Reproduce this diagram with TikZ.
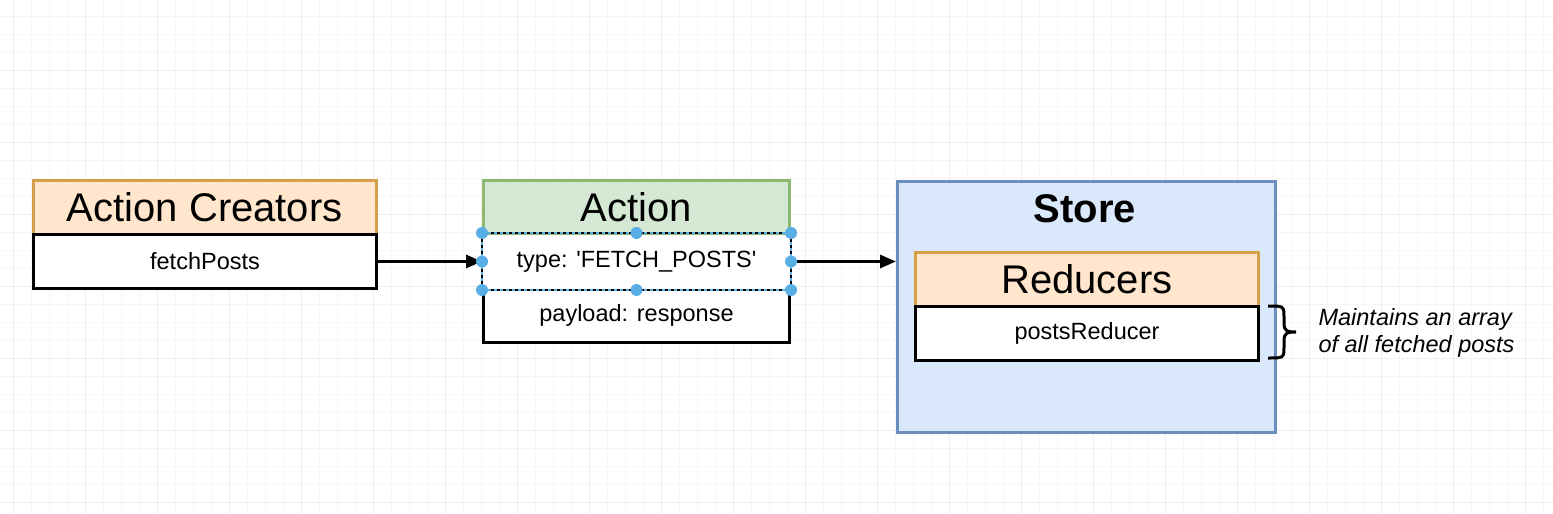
\documentclass[tikz,border=0pt]{standalone}
\usepackage{fontspec}
\setmainfont{Liberation Sans}
\usetikzlibrary{arrows.meta}
\definecolor{gridminor}{HTML}{F6F6F6}
\definecolor{gridmajor}{HTML}{ECECEC}
\definecolor{peachfill}{HTML}{FFE6CC}
\definecolor{peachdraw}{HTML}{D6A04A}
\definecolor{greenfill}{HTML}{D5E8D4}
\definecolor{greendraw}{HTML}{8DB870}
\definecolor{bluefill}{HTML}{DAE8FC}
\definecolor{bluedraw}{HTML}{6C8EBF}
\definecolor{handle}{HTML}{5AAEE6}
\begin{document}
\begin{tikzpicture}[x=1pt,y=-1pt,
  titlefont/.style={font=\fontsize{40}{48}\selectfont},
  bodyfont/.style={font=\fontsize{23.5}{28}\selectfont},
  hdr/.style={draw, line width=2.5pt, inner sep=0pt, titlefont, anchor=north west},
  rowbox/.style={draw=black, fill=white, line width=3pt, inner sep=0pt, bodyfont, anchor=north west, minimum height=54pt},
  arrowline/.style={draw=black, line width=3pt, -{Triangle[length=16pt,width=13pt]}},
  hdot/.style={fill=handle, draw=none}]
\useasboundingbox (0,0) rectangle (1553,514);
\fill[white] (0,0) rectangle (1553,514);
% grid
\foreach \i in {-1,...,86} {\draw[gridminor, line width=1pt] ({13+18*\i},0) -- ({13+18*\i},514);}
\foreach \j in {1,...,29} {\draw[gridminor, line width=1pt] (0,{-2+18*\j}) -- (1553,{-2+18*\j});}
\foreach \i in {0,...,21} {\draw[gridmajor, line width=1pt] ({13+72*\i},0) -- ({13+72*\i},514);}
\foreach \j in {1,...,7} {\draw[gridmajor, line width=1pt] (0,{-2+72*\j}) -- (1553,{-2+72*\j});}

% Action Creators
\node[hdr, fill=peachfill, draw=peachdraw, minimum width=343pt, minimum height=54pt] (ach) at (32,179) {Action Creators};
\node[rowbox, minimum width=343pt] (fp) at (32,233) {fetchPosts};

% Action
\node[hdr, fill=greenfill, draw=greendraw, minimum width=306pt, minimum height=54pt] (act) at (482,179) {Action};
\node[rowbox, minimum width=306pt] (pl) at (482,287) {payload: response};
\node[rowbox, draw=none, minimum width=306pt] (ty) at (482,233) {type: \textquotesingle FETCH\_POSTS\textquotesingle};
\draw[handle, line width=2.4pt] (ty.north west) rectangle (ty.south east);
\draw[black, line width=2.4pt, dash pattern=on 3pt off 3pt] (ty.north west) rectangle (ty.south east);

% Store
\node[draw=bluedraw, fill=bluefill, line width=2.5pt, inner sep=0pt, minimum width=378pt, minimum height=251pt, anchor=north west] (store) at (896,180) {};
\node[font=\fontsize{40}{48}\selectfont\bfseries] (storelbl) at (1085,209) {Store};
\node[hdr, fill=peachfill, draw=peachdraw, minimum width=343pt, minimum height=54pt] (red) at (914,251) {Reducers};
\node[rowbox, minimum width=343pt] (pr) at (914,305) {postsReducer};

% connectors
\draw[arrowline] (fp.east) -- (ty.west);
\draw[arrowline] (ty.east) -- (ty.east -| store.west);

% handles
\foreach \a in {north west,north,north east,west,east,south west,south,south east} {\fill[hdot] (ty.\a) circle (6pt);}

% brace and note
\draw[black, line width=3pt] (1268,306) .. controls (1284,306) and (1284,306) .. (1284,318) -- (1284,323) .. controls (1284,332) and (1288,332) .. (1296,332) .. controls (1288,332) and (1284,332) .. (1284,341) -- (1284,346) .. controls (1284,358) and (1284,358) .. (1268,358);
\node[anchor=west, align=left, font=\fontsize{23.5}{27}\selectfont\itshape] (note) at (1315,333) {Maintains an array\\of all fetched posts};
\end{tikzpicture}
\end{document}
